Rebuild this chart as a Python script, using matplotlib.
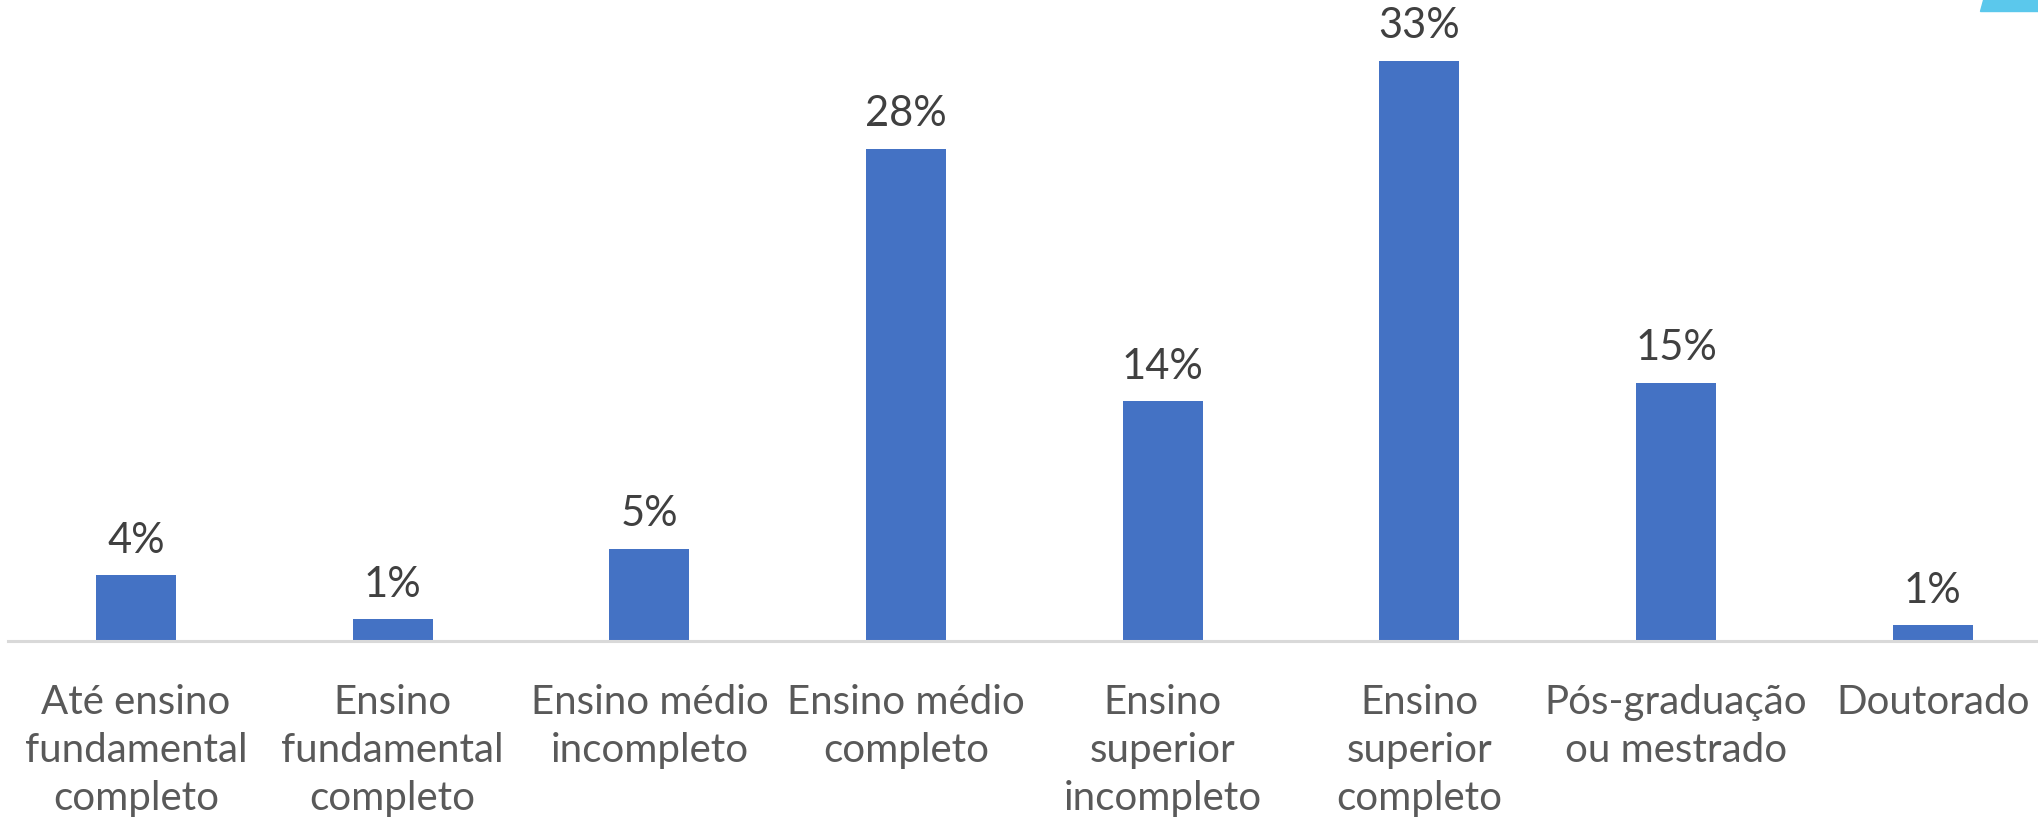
import matplotlib.pyplot as plt
from matplotlib.patches import Polygon

# dados
categorias = [
    "Até ensino\nfundamental\ncompleto",
    "Ensino\nfundamental\ncompleto",
    "Ensino médio\nincompleto",
    "Ensino médio\ncompleto",
    "Ensino\nsuperior\nincompleto",
    "Ensino\nsuperior\ncompleto",
    "Pós-graduação\nou mestrado",
    "Doutorado",
]
percentuais = [3.75, 1.25, 5.25, 28.0, 13.65, 33.0, 14.7, 0.9]

cor_barra = "#4472C4"
cor_texto = "#595959"
cor_rotulo = "#404040"

plt.rcParams["font.family"] = ["Lato", "DejaVu Sans"]

fig = plt.figure(figsize=(20.38, 8.22), dpi=100)
ax = fig.add_axes([7.7 / 2038, 181 / 822, 1 - 7.7 / 2038, 633 / 822])

x = list(range(len(categorias)))
barras = ax.bar(x, percentuais, width=0.312, color=cor_barra, zorder=2)

for b, v in zip(barras, percentuais):
    ax.annotate(f"{round(v)}%", (b.get_x() + b.get_width() / 2, v),
                xytext=(0, 11), textcoords="offset points",
                ha="center", va="bottom", fontsize=30, color=cor_rotulo)

ax.set_xlim(-0.5, 7.41)
ax.set_ylim(0, 36)
ax.set_xticks(x)
ax.set_xticklabels(categorias, fontsize=29, color=cor_texto, linespacing=1.36)
ax.tick_params(axis="x", length=0, pad=31)
ax.set_yticks([])

for s in ["top", "right", "left"]:
    ax.spines[s].set_visible(False)
ax.spines["bottom"].set_color("#D9D9D9")
ax.spines["bottom"].set_linewidth(2.2)

# detalhe decorativo no canto superior direito
W, H = 2038, 822
canto = Polygon([(1983 / W, 1), (1, 1), (1, 1 - 11 / H), (1980 / W, 1 - 11 / H)],
                closed=True, transform=fig.transFigure, color="#5BC8EC")
fig.patches.append(canto)

fig.savefig("out.png", dpi=100)
